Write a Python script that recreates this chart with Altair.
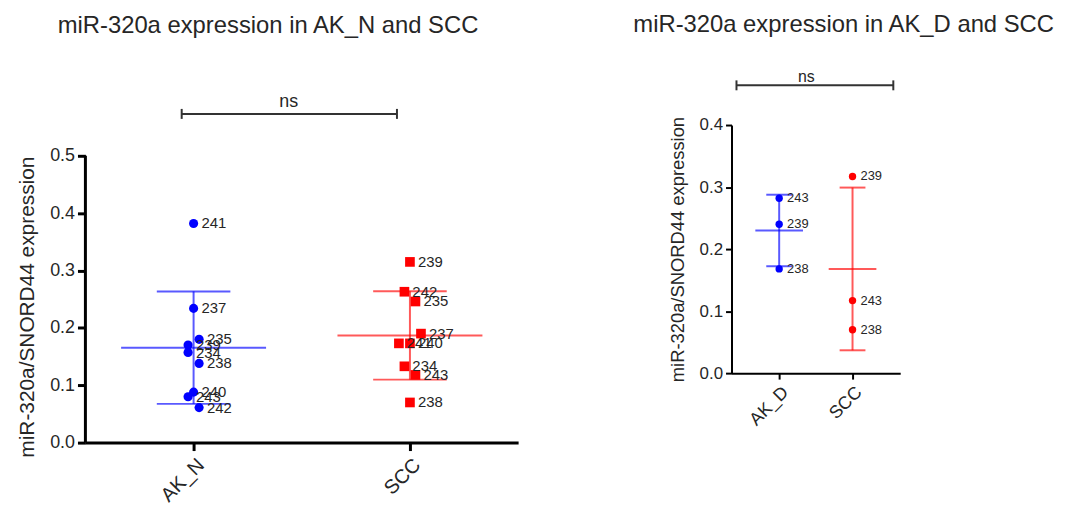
import altair as alt
import pandas as pd

# ---------------- data ----------------
left_cats = ["AK_N", "SCC"]
right_cats = ["AK_D", "SCC"]

akn_ids = ["241", "237", "235", "239", "234", "238", "240", "243", "242"]
akn_vals = [0.382, 0.234, 0.180, 0.170, 0.157, 0.138, 0.088, 0.080, 0.061]
akn_jit = [0, 0, 1, -1, -1, 1, 0, -1, 1]

scc1_ids = ["239", "242", "235", "237", "241", "240", "234", "243", "238"]
scc1_vals = [0.315, 0.263, 0.246, 0.190, 0.173, 0.173, 0.133, 0.118, 0.070]
scc1_jit = [0, -1, 1, 2, -2, 0, -1, 1, 0]

akd_ids = ["243", "239", "238"]
akd_vals = [0.282, 0.240, 0.168]

scc2_ids = ["239", "243", "238"]
scc2_vals = [0.317, 0.117, 0.070]

left_yticks = [0.0, 0.1, 0.2, 0.3, 0.4, 0.5]
right_yticks = [0.0, 0.1, 0.2, 0.3, 0.4]

left_title = "miR-320a expression in AK_N and SCC"
right_title = "miR-320a expression in AK_D and SCC"
y_title = "miR-320a/SNORD44 expression"
sig_text = "ns"

# ---------------- style ----------------
FONT = "Liberation Sans"
TXT = "#262626"
GROUP_COLORS = ["#0000ff", "#ff0000"]


def label_expr(positions, cats):
    parts = []
    for p, c in zip(positions, cats):
        parts.append(f"datum.value == {p} ? '{c}' : ")
    return "".join(parts) + "''"


def build_panel(cats, positions, groups, width, height, ydom, axis_top, yticks,
                xdom, jit_unit, mean_half, cap_half, shapes, sizes,
                axis_w, tick_size, lab_fs, xlab_fs, ytitle_fs, ytitle_y, ptlab_fs,
                sig, title_pos, title_fs, ns_fs):
    pts = []
    for k, (cat, pos, (ids, vals, jit)) in enumerate(zip(cats, positions, groups)):
        for i, v, j in zip(ids, vals, jit):
            pts.append({"cat": cat, "pos": pos, "id": i, "val": v,
                        "xj": pos + j * jit_unit, "col": GROUP_COLORS[k],
                        "shape": shapes[k], "size": sizes[k]})
    pts = pd.DataFrame(pts)

    hseg, vseg = [], []
    for k, (cat, pos) in enumerate(zip(cats, positions)):
        s = pts[pts["cat"] == cat]["val"]
        m, sd = s.mean(), s.std(ddof=1)
        c = GROUP_COLORS[k]
        hseg.append({"col": c, "x": pos - mean_half, "x2": pos + mean_half, "y": m})
        hseg.append({"col": c, "x": pos - cap_half, "x2": pos + cap_half, "y": m + sd})
        hseg.append({"col": c, "x": pos - cap_half, "x2": pos + cap_half, "y": m - sd})
        vseg.append({"col": c, "x": pos, "y": m - sd, "y2": m + sd})
    hseg = pd.DataFrame(hseg)
    vseg = pd.DataFrame(vseg)

    xscale = alt.Scale(domain=xdom, nice=False, zero=False)
    yscale = alt.Scale(domain=ydom, nice=False, zero=False)

    xaxis = alt.Axis(values=positions, labelExpr=label_expr(positions, cats),
                     labelAngle=-45, title=None, grid=False,
                     domainColor="black", domainWidth=axis_w,
                     tickColor="black", tickWidth=axis_w, tickSize=tick_size,
                     labelFont=FONT, labelFontSize=xlab_fs, labelColor=TXT,
                     labelPadding=4)
    yaxis_kw = dict(values=yticks, format=".1f", title=y_title, grid=False,
                    domainColor="black", domainWidth=axis_w,
                    tickColor="black", tickWidth=axis_w, tickSize=tick_size,
                    labelFont=FONT, labelFontSize=lab_fs, labelColor=TXT,
                    labelPadding=3, titleFont=FONT, titleFontSize=ytitle_fs,
                    titleFontWeight="normal", titleColor=TXT, titlePadding=12,
                    domain=axis_top is None)
    if ytitle_y is not None:
        yaxis_kw["titleY"] = ytitle_y
    yaxis = alt.Axis(**yaxis_kw)

    layers = []
    hl = alt.Chart(hseg).mark_rule(strokeWidth=2, opacity=0.65).encode(
        x=alt.X("x:Q", scale=xscale, axis=xaxis),
        x2="x2:Q",
        y=alt.Y("y:Q", scale=yscale, axis=yaxis),
        color=alt.Color("col:N", scale=None),
    )
    layers.append(hl)
    if axis_top is not None:
        ax = pd.DataFrame([{"x": xdom[0], "y": 0.0, "y2": axis_top}])
        layers.append(alt.Chart(ax).mark_rule(color="black", strokeWidth=axis_w).encode(
            x="x:Q", y="y:Q", y2="y2:Q"))
    vl = alt.Chart(vseg).mark_rule(strokeWidth=2, opacity=0.65).encode(
        x="x:Q", y="y:Q", y2="y2:Q", color=alt.Color("col:N", scale=None),
    )
    base_pts = alt.Chart(pts)
    dots = base_pts.mark_point(filled=True, opacity=1).encode(
        x="xj:Q", y="val:Q",
        color=alt.Color("col:N", scale=None),
        shape=alt.Shape("shape:N", scale=None),
        size=alt.Size("size:Q", scale=None),
    )
    labels = base_pts.mark_text(align="left", baseline="middle", dx=8,
                                font=FONT, fontSize=ptlab_fs, color=TXT).encode(
        x="xj:Q", y="val:Q", text="id:N",
    )

    sx0, sx1, sy, stick, nsx, nsy = sig
    sigbar = pd.DataFrame([{"x": sx0, "x2": sx1, "y": sy}])
    sigticks = pd.DataFrame([{"x": sx0, "y": sy - stick, "y2": sy + stick},
                             {"x": sx1, "y": sy - stick, "y2": sy + stick}])
    sigtxt = pd.DataFrame([{"x": nsx, "y": nsy, "t": sig_text}])
    bar = alt.Chart(sigbar).mark_rule(color="#333333", strokeWidth=2).encode(
        x="x:Q", x2="x2:Q", y="y:Q")
    barticks = alt.Chart(sigticks).mark_rule(color="#333333", strokeWidth=2).encode(
        x="x:Q", y="y:Q", y2="y2:Q")
    nst = alt.Chart(sigtxt).mark_text(baseline="alphabetic", align="center",
                                      font=FONT, fontSize=ns_fs, color=TXT).encode(
        x="x:Q", y="y:Q", text="t:N")

    tx, ty, ttext = title_pos
    tdf = pd.DataFrame([{"x": tx, "y": ty, "t": ttext}])
    ttl = alt.Chart(tdf).mark_text(baseline="alphabetic", align="center",
                                   font=FONT, fontSize=title_fs, color=TXT).encode(
        x="x:Q", y="y:Q", text="t:N")

    layers += [vl, dots, labels, bar, barticks, nst, ttl]
    return alt.layer(*layers).properties(width=width, height=height)


left = build_panel(
    left_cats, [0.5, 1.5],
    [(akn_ids, akn_vals, akn_jit), (scc1_ids, scc1_vals, scc1_jit)],
    436, 320, [0, 0.5536], 0.5, left_yticks, [0, 2], 0.0255, 0.335, 0.17,
    ["circle", "square"], [85, 95],
    3, 8, 18, 20, 21, 183, 15,
    (0.445, 1.44, 0.573, 0.0087, 0.94, 0.585),
    (0.844, 0.7145, left_title), 24, 18,
)

right = build_panel(
    right_cats, [0, 1],
    [(akd_ids, akd_vals, [0] * len(akd_ids)), (scc2_ids, scc2_vals, [0] * len(scc2_ids))],
    170, 250, [0, 0.4], None, right_yticks, [-0.65, 1.65], 0.0, 0.325, 0.176,
    ["circle", "circle"], [55, 55],
    2, 6, 17, 18, 18.5, None, 13,
    (-0.582, 1.556, 0.464, 0.008, 0.37, 0.469),
    (0.879, 0.55, right_title), 24, 16,
)

chart = alt.hconcat(left, right, spacing=115).configure_view(stroke=None).properties(
    padding={"left": 8, "top": 3, "right": 4, "bottom": 5}, background="white")

chart.save("out.html", embed_options={"renderer": "svg", "actions": False})
